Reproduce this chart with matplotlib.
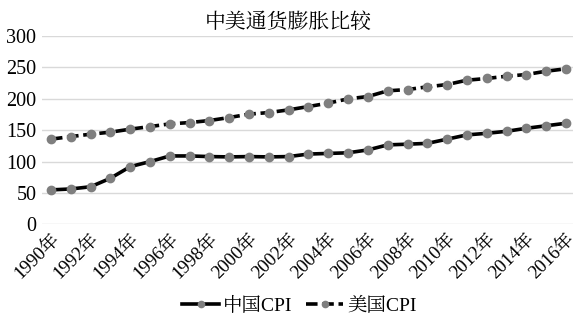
import numpy as np
import matplotlib
matplotlib.use("Agg")
import matplotlib.pyplot as plt

plt.rcParams['font.family'] = ['Liberation Serif', 'Noto Serif CJK SC', 'Noto Sans CJK SC', 'DejaVu Sans']

years = list(range(1990, 2017))
china_cpi = [55, 56.5, 60, 73.5, 92, 100, 109, 109, 108, 107.5, 108, 107.5, 108,
             112, 113, 114, 118.6, 126.6, 127.7, 129, 135.7, 142.5, 145, 148.2,
             153, 157, 161]
us_cpi = [135.7, 139.8, 143.6, 146.8, 151.6, 155.7, 160, 162.1, 165.3, 170.1,
          175.5, 178, 182.3, 187.6, 193, 199.8, 203.5, 212.6, 214.6, 218.9,
          222.6, 229.5, 232.2, 235.8, 238.5, 243.8, 247.6]
tick_labels = [str(y) + '年' for y in years]


def main():
    fig = plt.figure(figsize=(5.84, 3.23), dpi=100)
    ax = fig.add_axes([0.072, 0.305, 0.909, 0.584])

    x = np.arange(len(years))
    ax.plot(x, china_cpi, color='black', lw=2.6, marker='o', ms=6,
            mfc='#7f7f7f', mec='#7f7f7f', label='中国CPI', zorder=3)
    ax.plot(x, us_cpi, color='black', lw=2.6, marker='o', ms=6,
            mfc='#7f7f7f', mec='#7f7f7f', dashes=[3.2, 1.3], label='美国CPI', zorder=3)

    ax.set_ylim(0, 300)
    ax.set_yticks(range(0, 301, 50))
    ax.set_xlim(-0.45, 26.35)
    ax.set_xticks(x[::2])
    ax.set_xticklabels(tick_labels[::2], rotation=45, ha='right',
                       rotation_mode='anchor', fontsize=13.5)
    ax.tick_params(axis='y', labelsize=14.5, length=0, pad=4)
    ax.tick_params(axis='x', length=0, pad=4)

    ax.grid(axis='y', color='#d9d9d9', lw=1)
    ax.set_axisbelow(True)
    for s in ax.spines.values():
        s.set_visible(False)

    ax.set_title('中美通货膨胀比较', fontsize=15, pad=5, x=0.463)

    fig.legend(loc='lower center', ncol=2, frameon=False, fontsize=14,
               bbox_to_anchor=(0.513, -0.03), handlelength=1.9, columnspacing=0.7,
               handletextpad=0.2, markerscale=0.75)

    fig.savefig('out.png', dpi=100)


if __name__ == '__main__':
    main()
